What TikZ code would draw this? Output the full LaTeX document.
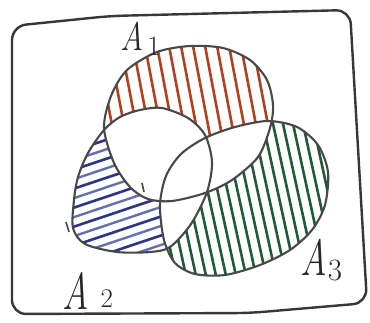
\documentclass[tikz,border=0pt]{standalone}
\usepackage{fontspec}
\usepackage{graphicx}
\definecolor{outl}{RGB}{72,72,72}
\definecolor{framec}{RGB}{55,55,55}
\definecolor{hred}{RGB}{176,64,30}
\definecolor{hblue}{RGB}{42,52,138}
\definecolor{hbluel}{RGB}{100,110,178}
\definecolor{hgreen}{RGB}{30,92,55}
\begin{document}
\begin{tikzpicture}[x=1pt,y=-1pt,
  frame/.style={draw=framec,line width=2.4pt,rounded corners=14pt,line join=round},
  setline/.style={draw=outl,line width=2.1pt},
  redh/.style={draw=hred,line width=2.6pt,line cap=round},
  blueh/.style={draw=hblue,line width=2.6pt,line cap=round},
  bluehl/.style={draw=hbluel,line width=2.4pt,line cap=round},
  greenh/.style={draw=hgreen,line width=2.6pt,line cap=round},
  lab/.style={inner sep=0pt,anchor=base west,text=black!85}]
\useasboundingbox (0,0) rectangle (370,322);
\def\Aone{plot[smooth cycle] coordinates {(104,128) (111,96) (127,70) (157,52) (190,46) (223,48) (250,60) (267,80) (273,105) (270,128) (258,157) (232,180) (205,193) (172,201) (148,199) (130,187) (114,163)}}
\def\Atwo{plot[smooth cycle] coordinates {(104,130) (120,117) (140,110) (162,108) (188,118) (205,135) (212,162) (207,192) (191,224) (170,247) (150,252) (117,252) (85,244) (73,228) (74,200) (78,177) (88,153)}}
\def\Athree{plot[smooth cycle] coordinates {(160,205) (166,176) (181,154) (205,138) (235,127) (268,121) (297,127) (318,145) (328,172) (325,205) (312,230) (290,250) (260,265) (225,275) (195,274) (175,263) (164,240)}}
\draw[frame] (12,160) -- (12,26) -- (110,16) -- (350,10) -- (367,303) -- (250,313) -- (12,314) -- cycle;
% A1 only
\begin{scope}
  \clip \Aone;
  \foreach \x in {70,82,...,300} \draw[redh] (\x,30) -- ++(36,190);
  \fill[white] \Atwo;
  \fill[white] \Athree;
\end{scope}
% A2 only
\begin{scope}
  \clip \Atwo;
  \foreach \y in {100,119,...,330} \draw[blueh] (55,\y) -- (225,\y-57);
  \foreach \y in {109.5,128.5,...,330} \draw[bluehl] (55,\y) -- (225,\y-57);
  \fill[white] \Aone;
  \fill[white] \Athree;
\end{scope}
% A3 only
\begin{scope}
  \clip \Athree;
  \foreach \x in {110,120,...,340} \draw[greenh] (\x,110) -- ++(38,175);
  \fill[white] \Aone;
  \fill[white] \Atwo;
\end{scope}
\draw[setline] \Aone;
\draw[setline] \Atwo;
\draw[setline] \Athree;
\draw[setline,line width=1.6pt] (142,183) -- (144,192);
\draw[setline,line width=1.6pt] (66,222) -- (69,232);
\node[lab] (L1) at (120,50) {\fontsize{40}{40}\selectfont\scalebox{0.8}[1]{\itshape A}\hspace{4pt}\raisebox{-5pt}{\fontsize{28}{28}\selectfont 1}};
\node[lab] (L2) at (62,309) {\fontsize{52}{52}\selectfont\scalebox{0.7}[1]{\itshape A}\hspace{12pt}\raisebox{2pt}{\fontsize{27}{27}\selectfont 2}};
\node[lab] (L3) at (300,275) {\fontsize{51}{51}\selectfont\scalebox{0.72}[1]{\itshape A}\hspace{1pt}\raisebox{-5pt}{\fontsize{31}{31}\selectfont 3}};
\end{tikzpicture}
\end{document}
